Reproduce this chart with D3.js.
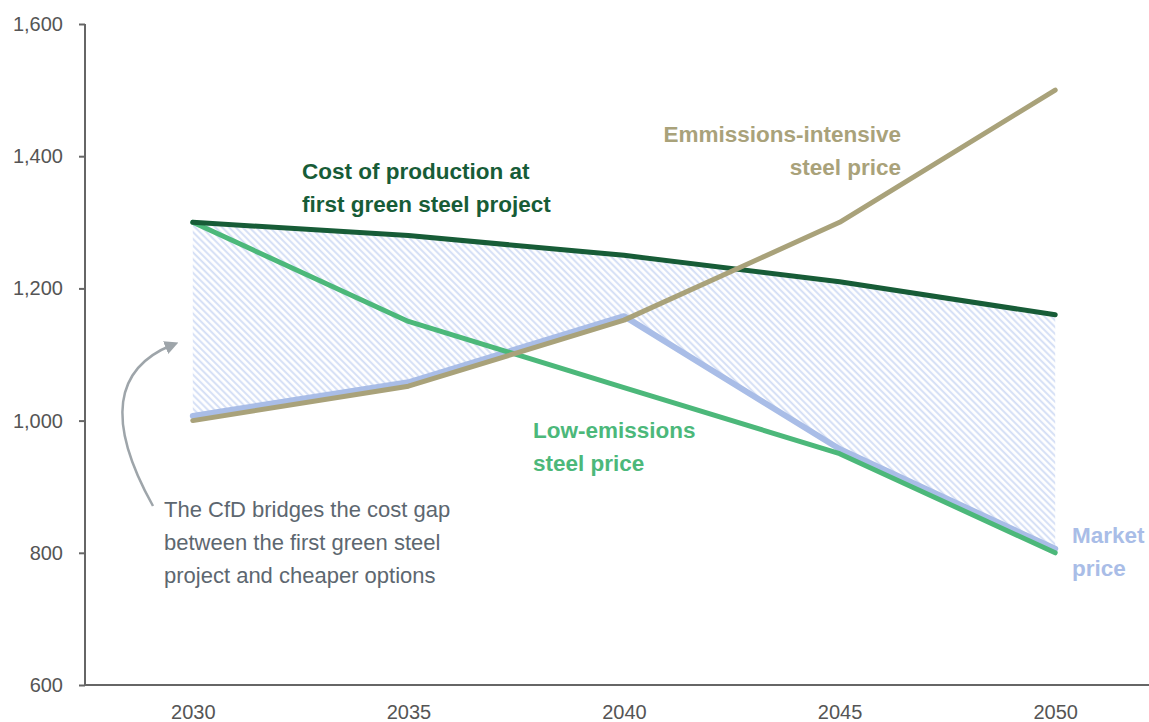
<!DOCTYPE html>
<html>
<head>
<meta charset="utf-8">
<script src="https://cdn.jsdelivr.net/npm/d3@7"></script>
<style>
  body { margin: 0; background: #fff; }
  svg { display: block; font-family: "Liberation Sans", Arial, sans-serif; }
</style>
</head>
<body>
<svg id="chart" width="1149" height="722"></svg>
<script>
// data
var years = [2030, 2035, 2040, 2045, 2050];
var costProduction = [1300, 1280, 1250, 1210, 1160];
var lowEmissions = [1300, 1150, 1050, 950, 800];
var emissionsIntensive = [1000, 1052, 1152, 1300, 1500];
var marketPrice = [1007, 1058, 1158, 957, 806];
var yTicks = [600, 800, 1000, 1200, 1400, 1600];

var svg = d3.select("#chart");

var x = d3.scalePoint().domain(years).range([85, 1163]).padding(0.5);
var y = d3.scaleLinear().domain([600, 1600]).range([685, 24]);

// hatch pattern for the CfD gap
var defs = svg.append("defs");
defs.append("pattern")
    .attr("id", "hatch")
    .attr("patternUnits", "userSpaceOnUse")
    .attr("width", 4.8)
    .attr("height", 4.8)
    .attr("patternTransform", "rotate(-45)")
    .append("line")
    .attr("x1", 1.2).attr("y1", 0).attr("x2", 1.2).attr("y2", 4.8)
    .style("stroke", "#d2ddf5")
    .style("stroke-width", 1.9);

defs.append("marker")
    .attr("id", "arrowhead")
    .attr("viewBox", "0 0 10 10")
    .attr("refX", 5).attr("refY", 5)
    .attr("markerWidth", 5.5).attr("markerHeight", 5.5)
    .attr("orient", "auto")
    .append("path")
    .attr("d", "M0,0 L10,5 L0,10 Z")
    .style("fill", "#9ea5aa");

var rows = years.map(function(yr, i) {
  return { year: yr, cost: costProduction[i], low: lowEmissions[i], intense: emissionsIntensive[i], market: marketPrice[i] };
});

svg.append("path")
    .datum(rows)
    .attr("d", d3.area().x(function(d){ return x(d.year); }).y0(function(d){ return y(d.market); }).y1(function(d){ return y(d.cost); }))
    .style("fill", "url(#hatch)");

// axes
var yAxis = svg.append("g").attr("transform", "translate(85,0)")
    .call(d3.axisLeft(y).tickValues(yTicks).tickSize(6).tickPadding(16).tickFormat(d3.format(",")));
var xAxis = svg.append("g").attr("transform", "translate(0,685)")
    .call(d3.axisBottom(x).tickSize(0).tickPadding(20));

[yAxis, xAxis].forEach(function(a) {
  a.select(".domain").style("stroke", "#666").style("stroke-width", 2);
  a.selectAll(".tick line").style("stroke", "#666").style("stroke-width", 2);
  a.selectAll(".tick text").style("font-family", "Liberation Sans, Arial, sans-serif").style("font-size", "20px").style("fill", "#555");
});
yAxis.select(".domain").attr("d", "M0,24V685");
xAxis.select(".domain").attr("d", "M85,0H1163");

function line(key) {
  return d3.line().x(function(d){ return x(d.year); }).y(function(d){ return y(d[key]); });
}

var series = [
  { key: "market", color: "#a9bde7", width: 6 },
  { key: "low", color: "#4cb87a", width: 5 },
  { key: "cost", color: "#175c37", width: 5 },
  { key: "intense", color: "#a9a27a", width: 5 }
];
series.forEach(function(s) {
  svg.append("path")
      .datum(rows)
      .attr("d", line(s.key))
      .style("fill", "none")
      .style("stroke", s.color)
      .style("stroke-width", s.width)
      .style("stroke-linecap", "round")
      .style("stroke-linejoin", "round");
});

// series labels
function label(lines, px, py, color, anchor) {
  var t = svg.append("text")
      .attr("x", px).attr("y", py)
      .attr("text-anchor", anchor || "start")
      .style("font-size", "22.5px").style("font-weight", "bold").style("fill", color);
  lines.forEach(function(l, i) {
    t.append("tspan").attr("x", px).attr("dy", i ? 33 : 0).text(l);
  });
}
label(["Cost of production at", "first green steel project"], 302, 179, "#175c37");
label(["Emmissions-intensive", "steel price"], 901, 142, "#a9a27a", "end");
label(["Low-emissions", "steel price"], 533, 438, "#4cb87a");
label(["Market", "price"], 1072, 543, "#a9bde7");

// annotation
var note = svg.append("text").attr("x", 164).attr("y", 517)
    .style("font-size", "22px").style("fill", "#5d6770");
["The CfD bridges the cost gap", "between the first green steel", "project and cheaper options"].forEach(function(l, i) {
  note.append("tspan").attr("x", 164).attr("dy", i ? 33 : 0).text(l);
});

svg.append("path")
    .attr("d", "M153,506 C105,420 115,368 172,345")
    .style("fill", "none")
    .style("stroke", "#9ea5aa")
    .style("stroke-width", 2.5)
    .attr("marker-end", "url(#arrowhead)");
</script>
</body>
</html>
